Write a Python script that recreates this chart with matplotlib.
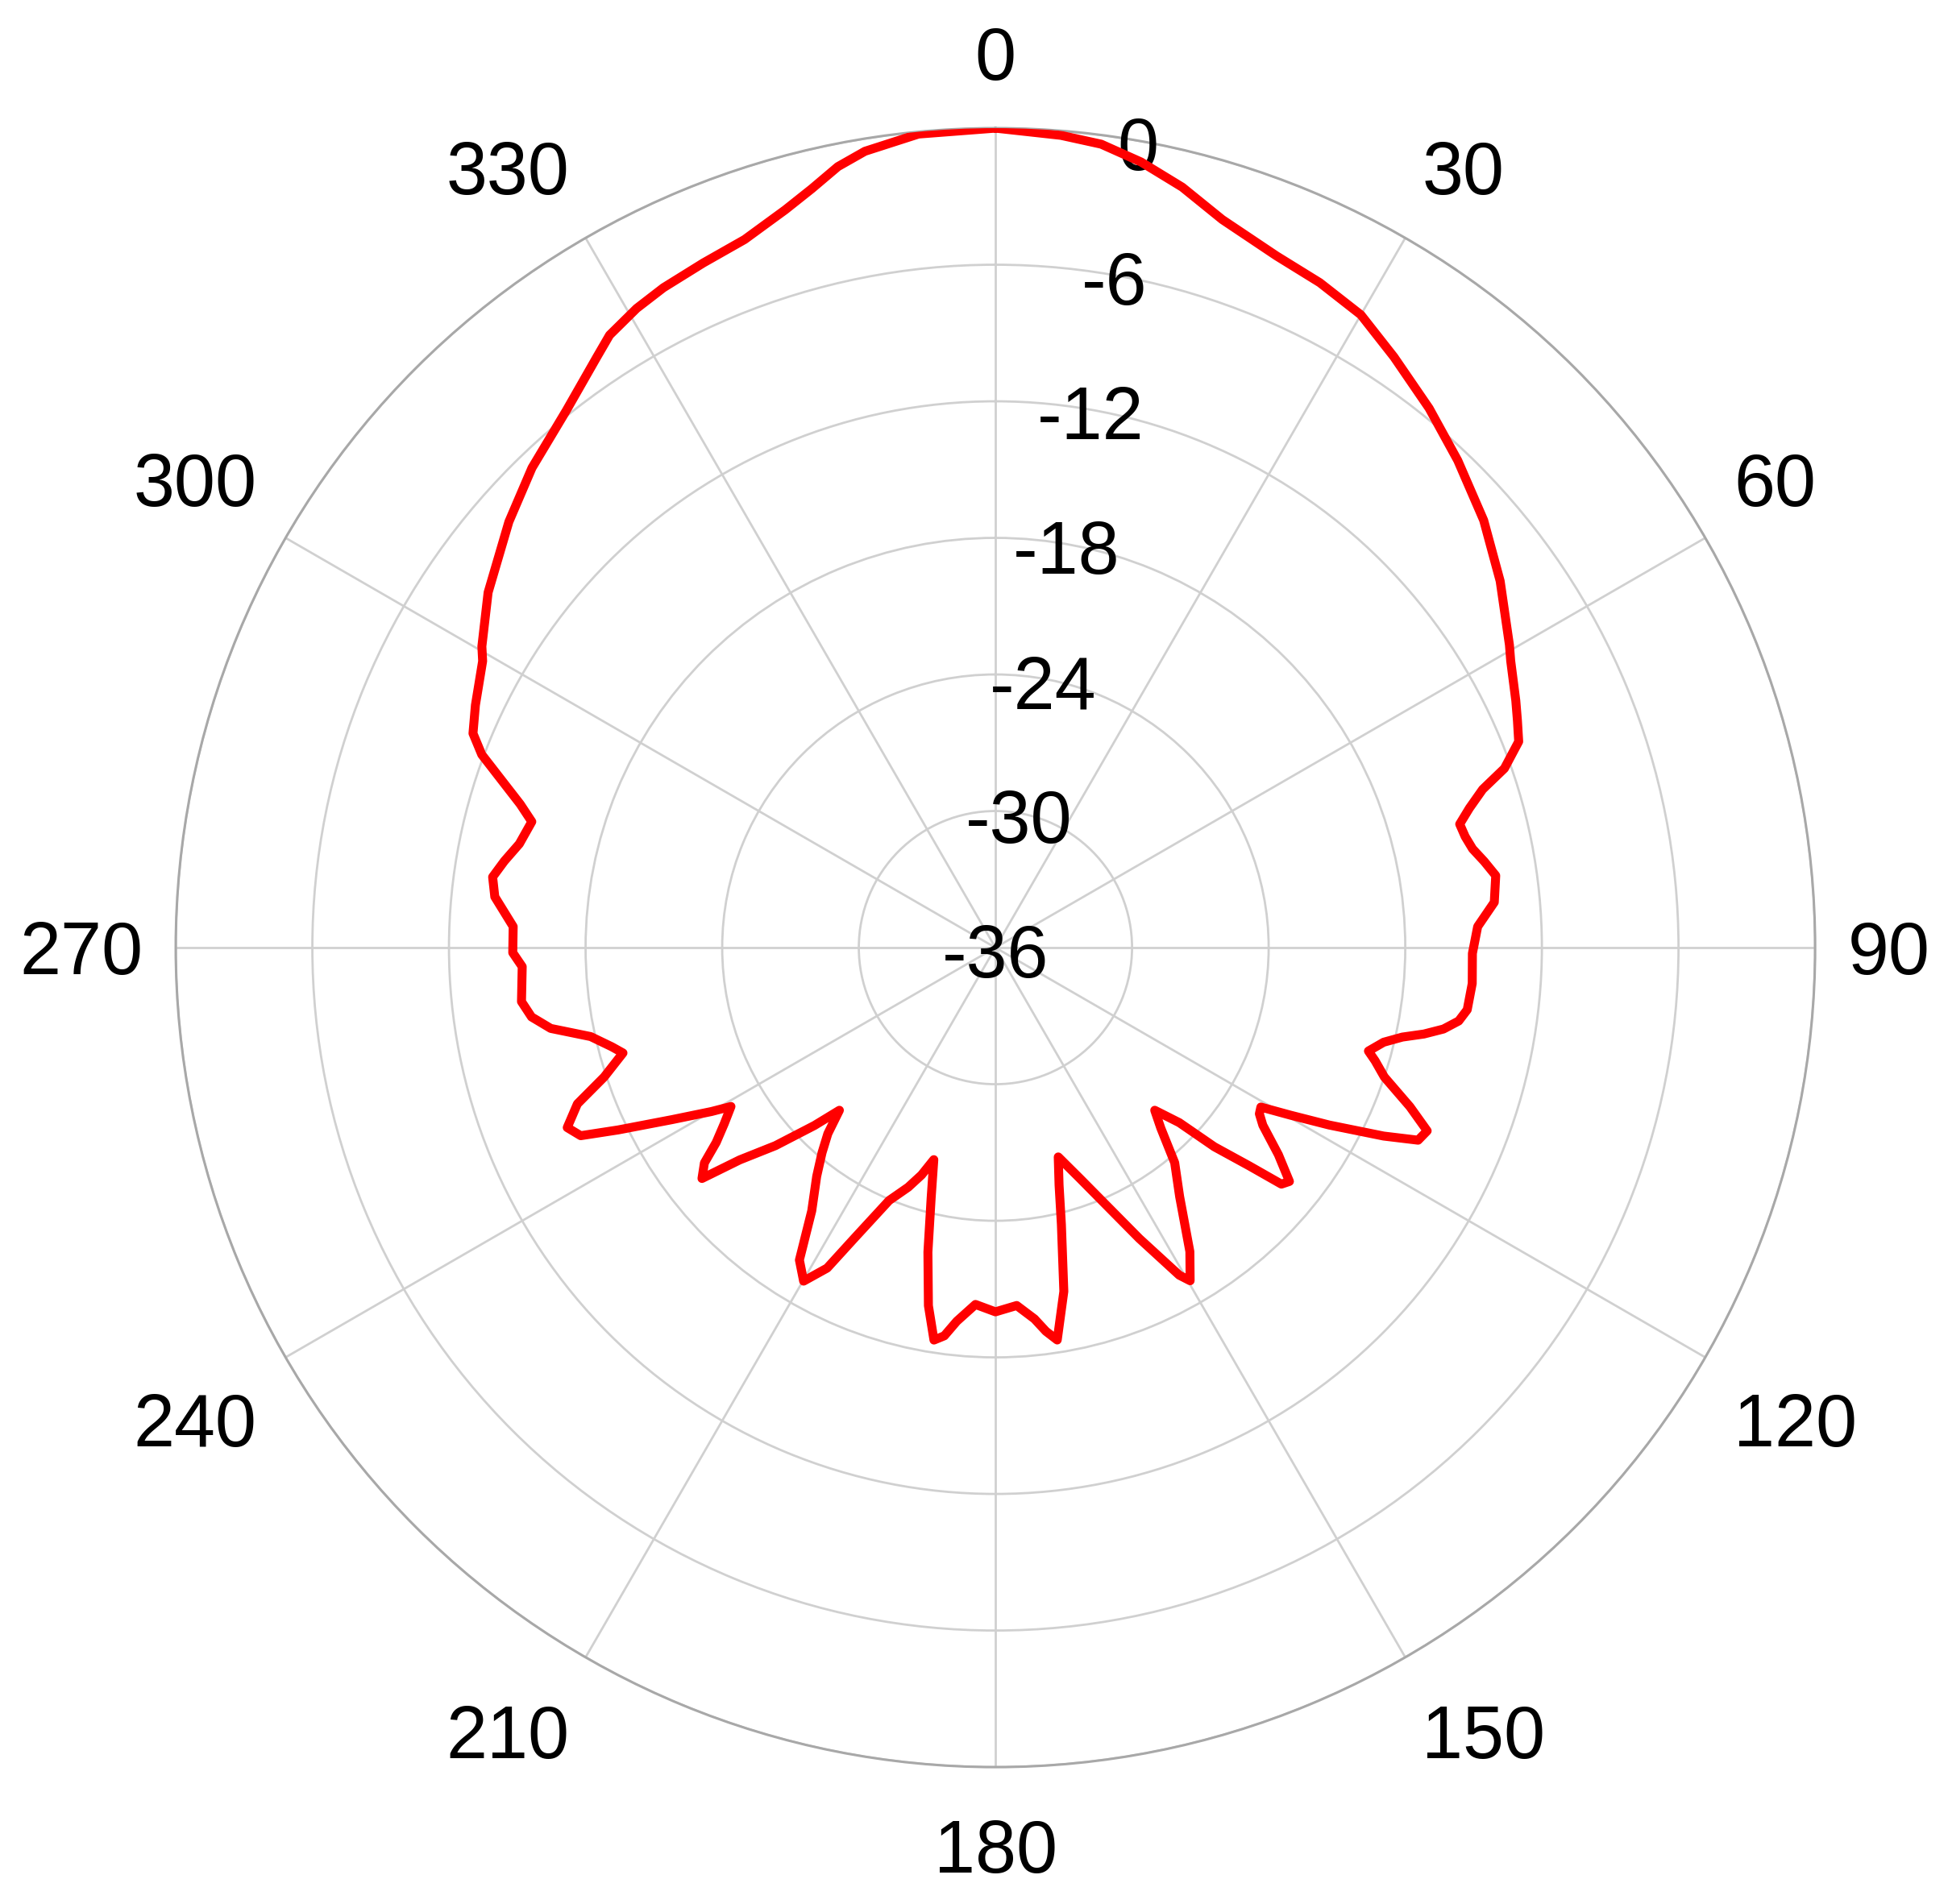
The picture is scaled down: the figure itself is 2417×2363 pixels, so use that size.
import numpy as np
import matplotlib.pyplot as plt
from matplotlib.transforms import ScaledTranslation

# radiation pattern (angle in degrees, gain in dB)
angle_deg = [0, 4.6, 7.5, 10.5, 13.8, 17.3, 22.1, 26, 30, 34, 38.8, 43.5, 48.8, 54, 59.5,
             60.9, 64.6, 66.5, 68.5, 70.6, 72.0, 73.6, 75.1, 76.7, 78.3, 80, 81.8, 84.8,
             87.5, 90.7, 94.3, 97.5, 99.0, 100.3, 101.4, 102.4, 103.7, 105.5, 106.6, 108.4,
             111.0, 113.0, 114.5, 115.9, 118.0, 119.6, 121.0, 122.2, 123.6, 126.2, 128.5,
             129.6, 130.7, 132.3, 133.6, 135.6, 137.5, 140.2, 143.5, 147.4, 149.7, 150.7,
             153.7, 157.2, 159.9, 163.3, 165.0, 166.6, 168.75, 171.05, 172.5, 174.0, 176.6,
             180, 183.2, 185.9, 187.5, 188.9, 190.6, 192.5, 194.4, 196.2, 198, 200, 202.8,
             205.9, 207.7, 209.9, 212.1, 214.9, 218, 220.2, 222, 223.8, 225.5, 228, 230.3,
             231.8, 233.5, 235.1, 237, 239, 240, 242, 244.2, 245.6, 247.2, 249.5, 251.7,
             254.2, 255.5, 257.6, 259.7, 261.5, 263.5, 267.7, 269.4, 272.5, 275.8, 278, 280,
             282.3, 285.2, 286.8, 288.4, 290.6, 292.3, 295, 299.2, 300.4, 305, 311.2, 316,
             321.4, 326.0, 327.8, 330.7, 333.3, 336.9, 340.5, 344.1, 346.4, 348.6, 350.7,
             354.6, 360]
gain_db = [0, -0.2, -0.4, -0.9, -1.6, -2.5, -3.2, -3.5, -3.9, -4.7, -5.6, -6.5, -7.5, -8.6, -9.8,
           -10.1, -10.7, -11.0, -11.3, -12.3, -13.5, -14.3, -14.9, -14.8, -14.6, -14.2, -13.8, -14.0,
           -14.8, -15.05, -15.0, -15.1, -15.4, -16.0, -16.8, -17.7, -18.45, -19.0, -18.6, -18.0,
           -16.5, -15.4, -15.6, -17.05, -19.4, -21.1, -22.4, -22.3, -21.9, -20.6, -19.5,
           -19.7, -21.3, -23.0, -24.85, -26.0, -25.25, -23.7, -22.4, -20.15, -19.05, -19.5,
           -21.75, -23.95, -25.2, -26.4, -25.2, -23.5, -20.6, -18.55, -19.0, -19.6, -20.25,
           -20.0, -20.3, -19.5, -18.8, -18.55, -20.0, -22.3, -24.65, -26.3, -25.5, -24.8, -23.95,
           -21.8, -20.1, -19.1, -19.8, -21.9, -23.25, -24.2, -25.0, -26.1, -24.85, -23.0, -21.4,
           -19.6, -20.1, -21.05, -21.8, -22.45, -21.6, -19.9, -17.6, -16.0, -15.6, -16.4, -17.9,
           -19.0, -18.6, -17.8, -16.15, -15.4, -15.05, -15.2, -14.8, -14.8, -13.9, -13.7, -14.1,
           -14.6, -14.9, -14.2, -13.3, -11.9, -11.2, -10.8, -10.2, -9.85, -8.8, -7.6, -6.7,
           -5.8, -4.7, -4.2, -3.8, -3.55, -3.3, -3.0, -2.3, -1.7, -1.0, -0.55,
           -0.1, 0]

r_ticks = [-36, -30, -24, -18, -12, -6, 0]
theta_ticks = list(range(0, 360, 30))

plt.rcParams['font.family'] = ['Liberation Sans', 'DejaVu Sans']
fs = 66
dpi = 100
em = fs * dpi / 72.0
digit_h = 0.716 * em
gap = 41   # pixels from outer circle to the label anchor

fig = plt.figure(figsize=(24.17, 23.63), dpi=dpi)
ax = fig.add_axes([0.0902, 0.0719, 0.8416, 0.8608], projection='polar')
ax.set_theta_zero_location('N')
ax.set_theta_direction(-1)
ax.set_ylim(-36, 0)

ax.plot(np.radians(angle_deg), gain_db, color='#ff0000', lw=8, zorder=5,
        solid_joinstyle='round', solid_capstyle='round')

ax.set_yticks(r_ticks[1:])
ax.set_yticklabels([])
ax.set_xticks(np.radians(theta_ticks))
ax.set_xticklabels([])
ax.grid(True, color='#d0d0d0', lw=2.0)
ax.spines['polar'].set_color('#a8a8a8')
ax.spines['polar'].set_linewidth(2.2)


def shifted(dx_px, dy_px):
    return ax.transData + ScaledTranslation(dx_px / dpi, dy_px / dpi, fig.dpi_scale_trans)


# angle labels: anchored just outside the circle, aligned away from it
for t in theta_ticks:
    s, c = np.sin(np.radians(t)), np.cos(np.radians(t))
    ha = 'center' if t in (0, 180) else ('left' if t < 180 else 'right')
    if t in (90, 270):
        va, extra = 'center', -9
    elif t < 90 or t > 270:
        va, extra = 'bottom', 0
    else:
        va, extra = 'top', -23
    ax.text(np.radians(t), 0, str(t), fontsize=fs, ha=ha, va=va,
            transform=shifted(gap * s, gap * c + extra), clip_on=False, zorder=3)

# radial labels along the 10 degree direction
for r in r_ticks:
    ax.text(np.radians(10 if r > -36 else 0), r, str(r), fontsize=fs,
            ha='center', va='baseline', transform=shifted(0, -digit_h / 2 - 4), zorder=3)

fig.savefig('out.png', dpi=dpi)
